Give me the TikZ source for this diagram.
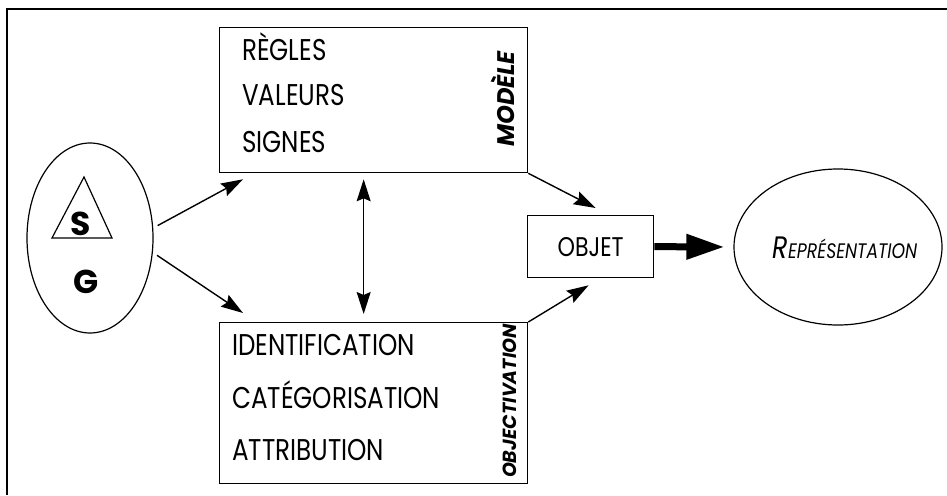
\documentclass[tikz,border=0pt]{standalone}
\usepackage{fontspec}
\setmainfont{Poppins}[FakeStretch=0.82]
\newfontfamily\wide{Poppins}
\usetikzlibrary{arrows.meta,shapes.geometric}

\tikzset{
 box/.style={draw,line width=1.3pt,anchor=north west,inner sep=0pt},
 item/.style={anchor=base west,inner sep=0pt,font=\fontsize{30}{30}\selectfont},
 tag/.style={rotate=90,inner sep=0pt},
 letter/.style={inner sep=0pt,font=\wide\fontsize{33}{33}\selectfont\bfseries},
 arr/.style={line width=1.4pt,-{Stealth[length=22pt,width=14pt,inset=3pt]}},
 dbl/.style={line width=1.4pt,{Stealth[length=22pt,width=14pt,inset=3pt]}-{Stealth[length=22pt,width=14pt,inset=3pt]}},
}

\begin{document}
\begin{tikzpicture}[x=1pt,y=-1pt]
 \useasboundingbox (0,0) rectangle (947,495);
 \draw[line width=1.5pt] (7,495)--(7,9)--(947,9);
 % sujet / groupe
 \node[ellipse,draw,line width=1.2pt,minimum width=126pt,minimum height=190pt,inner sep=0pt] (sg) at (90,238) {};
 \draw[line width=1.2pt] (84,177)--(112,238)--(52,238)--cycle;
 \node[letter] (s) at (81,224) {S};
 \node[letter] (g) at (86,282) {G};
 % boites
 \node[box,minimum width=308pt,minimum height=145pt] (modele) at (219,27) {};
 \node[item] (regles) at (242,60) {RÈGLES};
 \node[item] (valeurs) at (242,105) {VALEURS};
 \node[item] (signes) at (242,152) {SIGNES};
 \node[tag,font=\wide\fontsize{24}{24}\selectfont\bfseries\itshape] (tmodele) at (503,99) {MODÈLE};
 \node[box,minimum width=308pt,minimum height=161pt] (objectiv) at (219,322) {};
 \node[item] (ident) at (232,355) {IDENTIFICATION};
 \node[item] (categ) at (232,408) {CATÉGORISATION};
 \node[item] (attrib) at (232,460) {ATTRIBUTION};
 \node[tag,font=\wide\fontsize{19}{19}\selectfont\bfseries\itshape] (tobjectiv) at (510,401) {OBJECTIVATION};
 \node[box,minimum width=126pt,minimum height=62pt] (objet) at (527,215) {};
 \node[font=\fontsize{27}{27}\selectfont] (tobjet) at (objet) {OBJET};
 \node[ellipse,draw,line width=1.2pt,minimum width=208pt,minimum height=156pt,inner sep=0pt] (rep) at (838,247) {};
 \node[font=\itshape,inner sep=0pt] (trep) at (845,248) {\fontsize{31}{31}\selectfont R\fontsize{21}{21}\selectfont EPRÉSENTATION};
 % fleches
 \draw[arr,shorten <=5pt] (sg.9) -- ([xshift=24pt,yshift=-6pt]modele.south west);
 \draw[arr,shorten <=5pt] (sg.-13) -- ([xshift=24pt,yshift=9pt]objectiv.north west);
 \draw[dbl,shorten <=6pt,shorten >=8pt] ([xshift=-10pt]modele.south) -- ([xshift=-10pt]objectiv.north);
 \draw[arr] (modele.south east) -- ([xshift=5pt,yshift=7pt]objet.north);
 \draw[arr] (objectiv.north east) -- ([xshift=-2pt,yshift=-7pt]objet.south);
 \draw[line width=7pt,-{Triangle[length=38pt,width=24pt]},shorten >=9pt] (objet.east) -- (rep.west);
\end{tikzpicture}
\end{document}
